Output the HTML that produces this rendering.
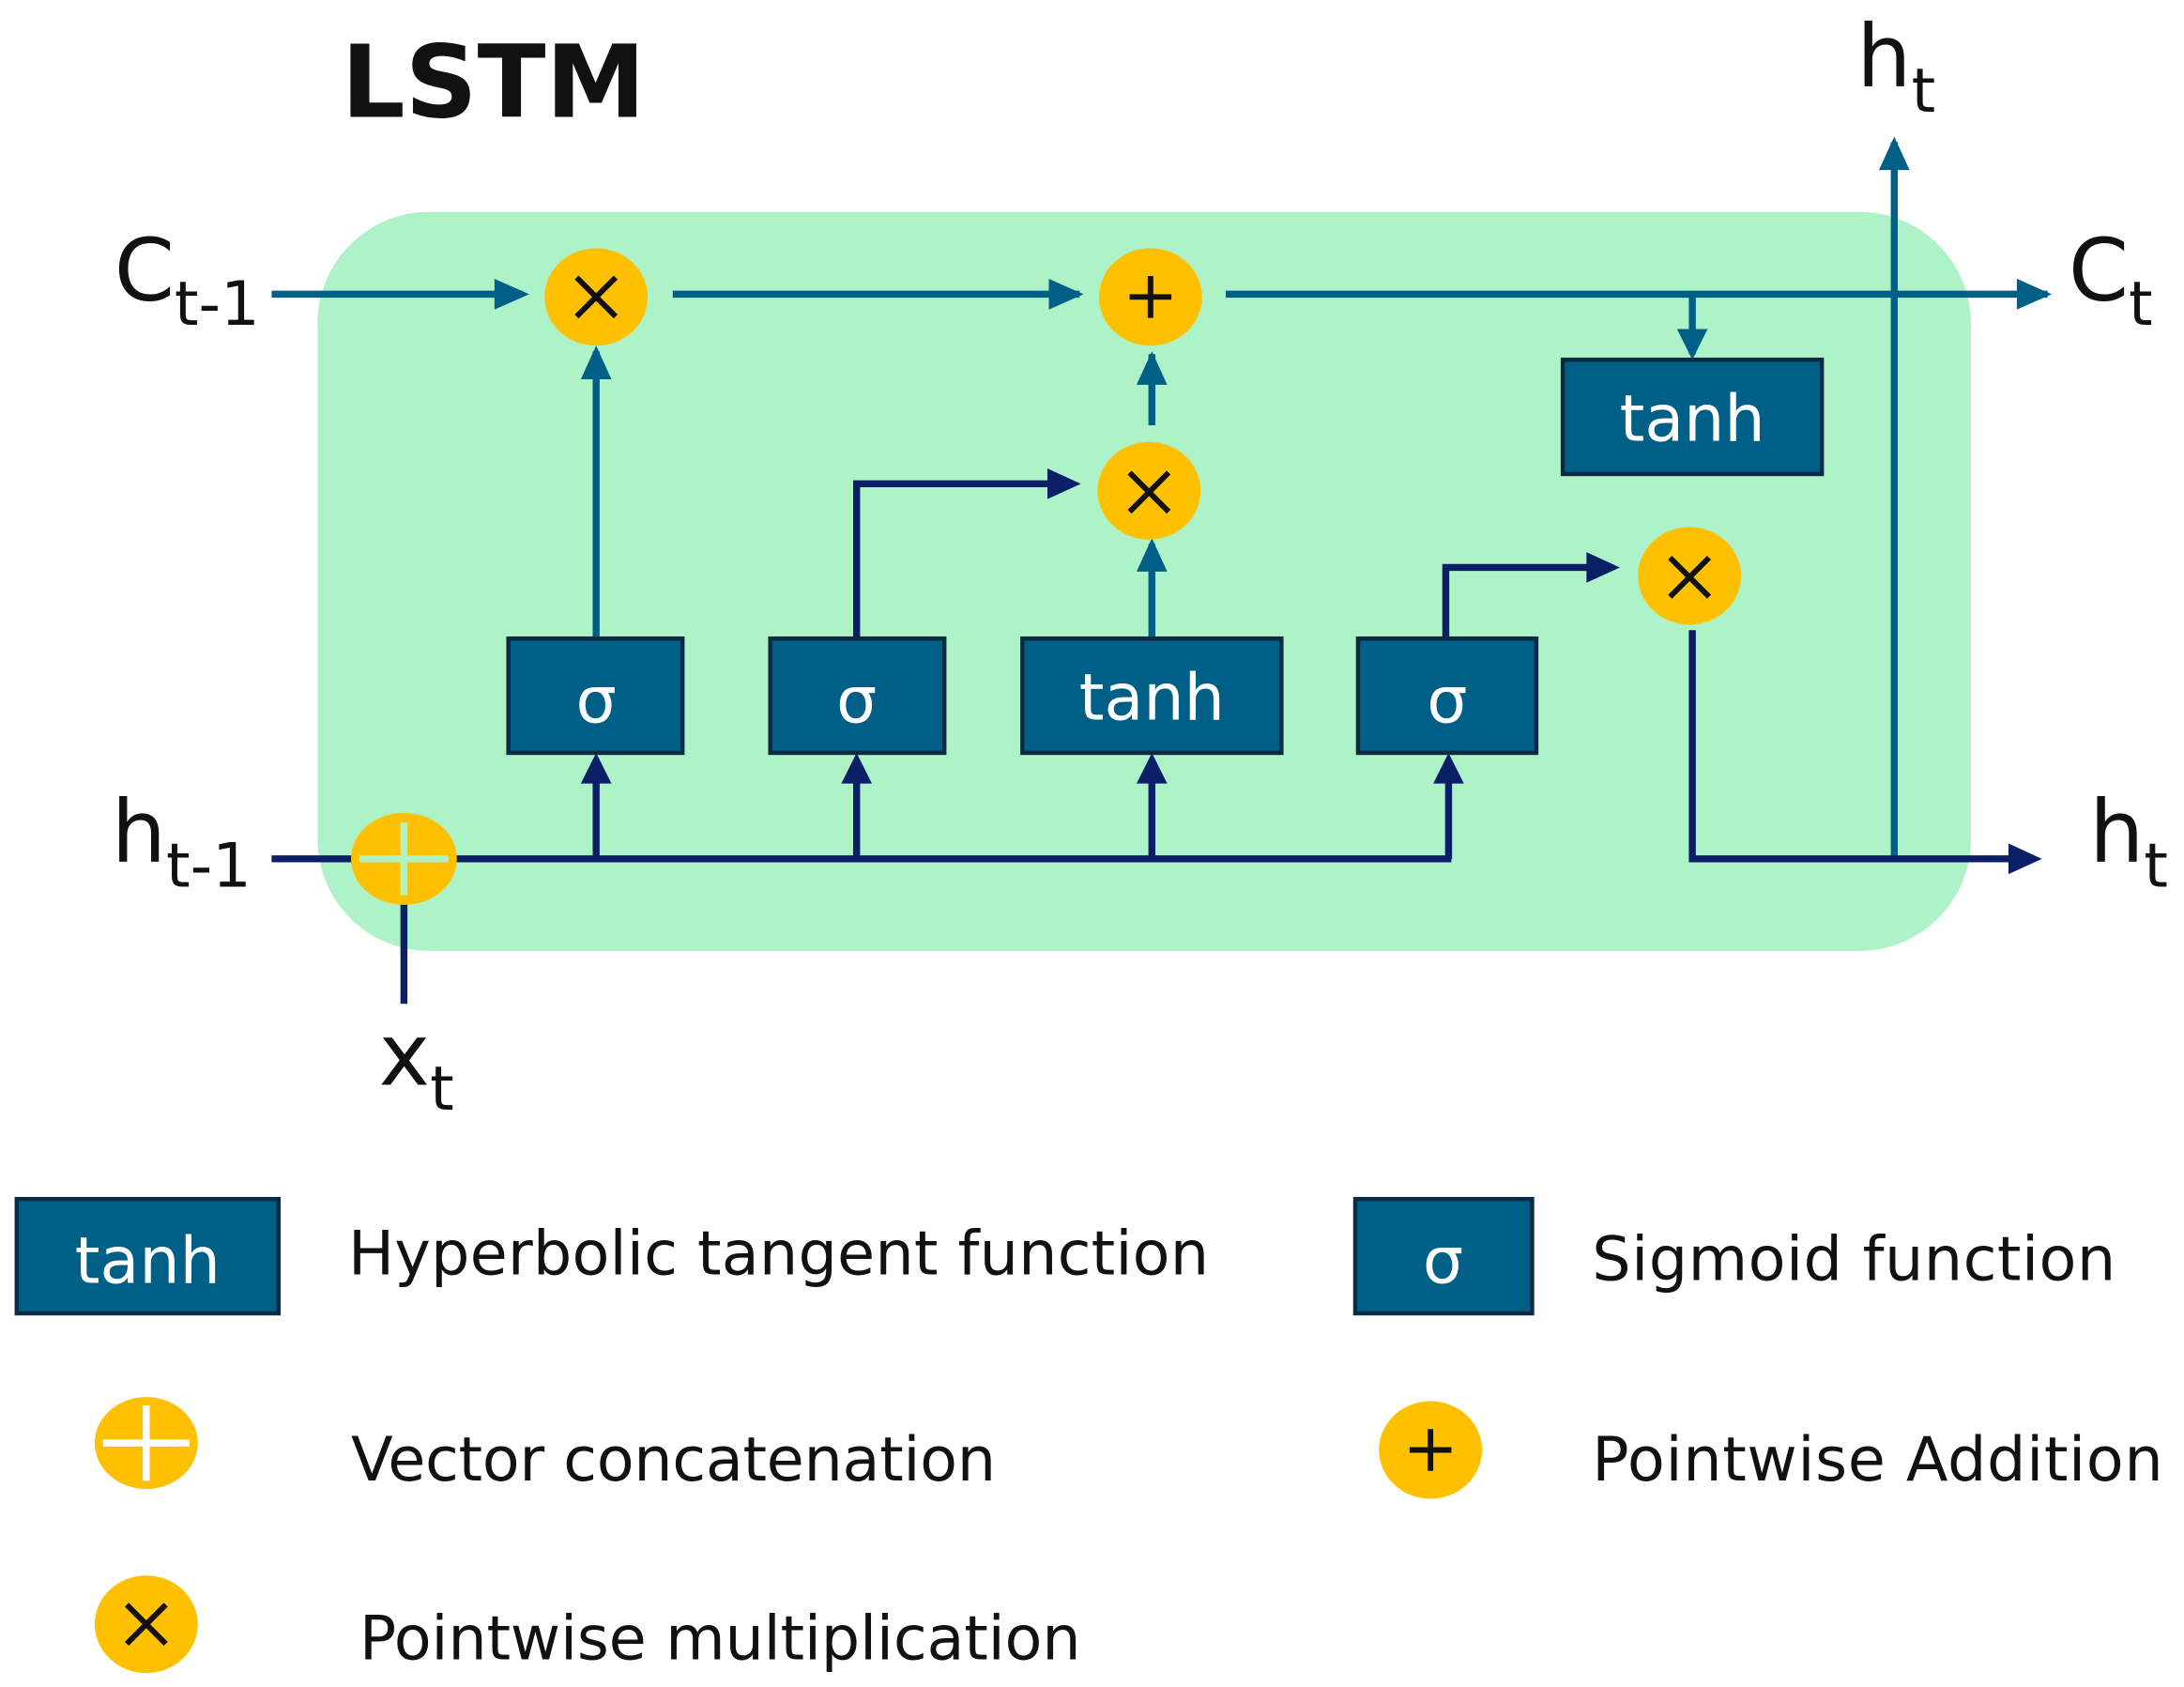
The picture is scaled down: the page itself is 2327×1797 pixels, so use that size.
<!DOCTYPE html>
<html><head><meta charset="utf-8"><style>
html,body{margin:0;padding:0;background:#fff;}
svg{display:block;}
text{font-family:"DejaVu Sans","Liberation Sans",sans-serif;}
</style></head><body>
<svg width="2327" height="1797" viewBox="0 0 1568 1210" preserveAspectRatio="none" xmlns="http://www.w3.org/2000/svg">
<defs>
<marker id="at" markerWidth="10" markerHeight="10" refX="8" refY="5" orient="auto" markerUnits="userSpaceOnUse" viewBox="0 0 10 10"><path d="M0,0 L10,5 L0,10 z" fill="#005f86"/></marker>
<marker id="an" markerWidth="10" markerHeight="10" refX="8" refY="5" orient="auto" markerUnits="userSpaceOnUse" viewBox="0 0 10 10"><path d="M0,0 L10,5 L0,10 z" fill="#0b1f66"/></marker>
</defs>
<rect x="228" y="152" width="1187" height="530" rx="80" fill="#aef2c8"/>
<text x="245" y="84" font-size="72" font-weight="bold" fill="#111" font-family="Liberation Sans">LSTM</text>

<g stroke="#005f86" stroke-width="5" fill="none">
<line x1="195" y1="211" x2="375" y2="211" marker-end="url(#at)" style="marker-end:url(#at)"/>
<line x1="483" y1="211" x2="775" y2="211"/>
<line x1="880" y1="211" x2="1470" y2="211"/>
<line x1="1215" y1="211" x2="1215" y2="254"/>
<line x1="1360" y1="616" x2="1360" y2="102"/>
<line x1="428" y1="458" x2="428" y2="252"/>
<line x1="827" y1="458" x2="827" y2="390"/>
<line x1="827" y1="305" x2="827" y2="254"/>
</g>
<g fill="#005f86">
<path d="M355,200 L380,211 L355,222z"/>
<path d="M753,200 L778,211 L753,222z"/>
<path d="M1448,200 L1473,211 L1448,222z"/>
<path d="M1204,236 L1215,258 L1226,236z"/>
<path d="M1349,122 L1360,98 L1371,122z"/>
<path d="M417,272 L428,248 L439,272z"/>
<path d="M816,410 L827,386 L838,410z"/>
<path d="M816,276 L827,252 L838,276z"/>
</g>

<g stroke="#0b1f66" stroke-width="5" fill="none">
<line x1="195" y1="616" x2="1042" y2="616"/>
<line x1="290" y1="616" x2="290" y2="720"/>
<line x1="428" y1="616" x2="428" y2="560"/>
<line x1="615" y1="616" x2="615" y2="560"/>
<line x1="827" y1="616" x2="827" y2="560"/>
<line x1="1040" y1="616" x2="1040" y2="560"/>
<polyline points="615,458 615,347 755,347"/>
<polyline points="1038,458 1038,407 1142,407"/>
<polyline points="1215,452 1215,616 1445,616"/>
</g>
<g fill="#0b1f66">
<path d="M417,562 L428,540 L439,562z"/>
<path d="M604,562 L615,540 L626,562z"/>
<path d="M816,562 L827,540 L838,562z"/>
<path d="M1029,562 L1040,540 L1051,562z"/>
<path d="M752,336 L776,347 L752,358z"/>
<path d="M1139,396 L1163,407 L1139,418z"/>
<path d="M1442,605 L1466,616 L1442,627z"/>
</g>

<g fill="#005f86" stroke="#0d2a44" stroke-width="3">
<rect x="1122" y="258" width="186" height="82"/>
<rect x="365" y="458" width="125" height="82"/>
<rect x="553" y="458" width="125" height="82"/>
<rect x="734" y="458" width="186" height="82"/>
<rect x="975" y="458" width="128" height="82"/>
<rect x="12" y="860" width="188" height="82"/>
<rect x="973" y="860" width="127" height="82"/>
</g>
<g fill="#fff" font-size="46" text-anchor="middle">
<text x="1215" y="316">tanh</text>
<text x="428" y="518">σ</text>
<text x="615" y="518">σ</text>
<text x="827" y="516">tanh</text>
<text x="1039" y="518">σ</text>
<text x="106" y="920">tanh</text>
<text x="1036" y="920">σ</text>
</g>

<g fill="#ffc000">
<ellipse cx="428" cy="213" rx="37" ry="35"/>
<ellipse cx="826" cy="213" rx="37" ry="35"/>
<ellipse cx="825" cy="352" rx="37" ry="35"/>
<ellipse cx="1213" cy="413" rx="37" ry="35"/>
<ellipse cx="290" cy="616" rx="38" ry="33"/>
<ellipse cx="105" cy="1035" rx="37" ry="33"/>
<ellipse cx="1027" cy="1040" rx="37" ry="35"/>
<ellipse cx="105" cy="1165" rx="37" ry="35"/>
</g>
<g stroke="#111" stroke-width="4">
<path d="M414,199 L442,227 M442,199 L414,227"/>
<path d="M811,339 L839,367 M839,339 L811,367"/>
<path d="M1199,400 L1227,428 M1227,400 L1199,428"/>
<path d="M91,1151 L119,1179 M119,1151 L91,1179"/>
<path d="M826,198 L826,228 M811,213 L841,213"/>
<path d="M1027,1025 L1027,1055 M1012,1040 L1042,1040"/>
</g>
<g stroke="#aef2c8" stroke-width="5">
<path d="M290,590 L290,642 M258,616 L322,616"/>
</g>
<g stroke="#fff" stroke-width="5">
<path d="M105,1008 L105,1062 M74,1035 L136,1035"/>
</g>

<g fill="#111" font-size="62">
<text x="82" y="215">C<tspan font-size="44" dy="18">t-1</tspan></text>
<text x="1485" y="215">C<tspan font-size="44" dy="18">t</tspan></text>
<text x="1333" y="62">h<tspan font-size="44" dy="18">t</tspan></text>
<text x="80" y="618">h<tspan font-size="44" dy="18">t-1</tspan></text>
<text x="1500" y="618">h<tspan font-size="44" dy="18">t</tspan></text>
<text x="272" y="778">x<tspan font-size="44" dy="18">t</tspan></text>
</g>
<g fill="#111" font-size="44">
<text x="250" y="914" textLength="618">Hyperbolic tangent function</text>
<text x="1143" y="918" textLength="376">Sigmoid function</text>
<text x="252" y="1062" textLength="463">Vector concatenation</text>
<text x="1143" y="1062" textLength="410">Pointwise Addition</text>
<text x="258" y="1190" textLength="518">Pointwise multiplication</text>
</g>
</svg>
</body></html>
